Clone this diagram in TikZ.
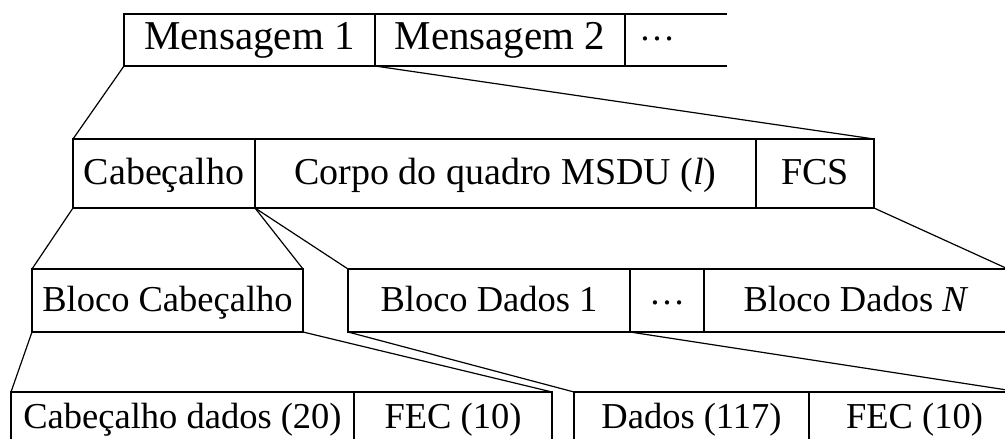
\RequirePackage{fix-cm}
\documentclass[tikz,border=0pt]{standalone}
\usepackage{fontspec}
\setmainfont{Liberation Serif}
% raised text ellipsis used for the open-ended sequences
\newcommand{\seqdots}{\raisebox{0.2em}{\fontsize{36}{40}\selectfont …}}
\begin{document}
\begin{tikzpicture}[x=1pt,y=-1pt,line width=1.2pt,
  cell/.style={draw,rectangle,inner sep=0pt,outer sep=0pt,anchor=north west,
               text height=26pt,text depth=4pt,font=\fontsize{36.5}{44}\selectfont},
  framecell/.style={cell,font=\fontsize{38}{46}\selectfont},
  bigcell/.style={cell,text height=28pt,text depth=10pt,font=\fontsize{41}{49}\selectfont},
  opencell/.style={draw=none},
  link/.style={line width=1.2pt}]
  \useasboundingbox (0,0) rectangle (1005,439);
  \fill[white] (0,0) rectangle (1005,439);
  \clip (0,0) rectangle (1005,439);

  % messages
  \node[bigcell,minimum width=251pt,minimum height=52pt] (m1) at (124,14) {Mensagem 1};
  \node[bigcell,minimum width=250pt,minimum height=52pt] (m2) at (375,14) {Mensagem 2};
  \node[bigcell,opencell,minimum width=64pt,minimum height=52pt] (mdots) at (625,14) {\seqdots};
  \coordinate (mtopend) at (727,14);
  \coordinate (mbotend) at (727,66);
  \draw (mdots.north west) -- (mtopend);
  \draw (mdots.south west) -- (mbotend);

  % MAC frame
  \node[framecell,minimum width=182pt,minimum height=69pt] (cab) at (73,139) {Cabeçalho};
  \node[framecell,minimum width=501pt,minimum height=69pt] (corpo) at (255,139) {Corpo do quadro MSDU (\textit{l})};
  \node[framecell,minimum width=118pt,minimum height=69pt] (fcs) at (756,139) {FCS};

  % blocks
  \node[cell,minimum width=271pt,minimum height=63pt] (bcab) at (32,269) {Bloco Cabeçalho};
  \node[cell,minimum width=282pt,minimum height=63pt] (bd1) at (348,269) {Bloco Dados 1};
  \node[cell,minimum width=74pt,minimum height=63pt] (bdots) at (630,269) {\seqdots};
  \node[cell,minimum width=304pt,minimum height=63pt] (bdn) at (704,269) {Bloco Dados \textit{N}};

  % block contents
  \node[cell,minimum width=343pt,minimum height=50pt] (cd) at (11,392) {Cabeçalho dados (20)};
  \node[cell,minimum width=198pt,minimum height=50pt] (fec1) at (354,392) {FEC (10)};
  \node[cell,minimum width=235pt,minimum height=50pt] (dados) at (574,392) {Dados (117)};
  \node[cell,minimum width=211pt,minimum height=50pt] (fec2) at (809,392) {FEC (10)};

  % expansion lines
  \draw[link] (m1.south west) -- (cab.north west);
  \draw[link] (m2.south west) -- (fcs.north east);
  \draw[link] (cab.south west) -- (bcab.north west);
  \draw[link] (cab.south east) -- (bcab.north east);
  \draw[link] (cab.south east) -- (bd1.north west);
  \draw[link] (fcs.south east) -- (bdn.north east);
  \draw[link] (bcab.south west) -- (cd.north west);
  \draw[link] (bcab.south east) -- (fec1.north east);
  \draw[link] (bd1.south west) -- (dados.north west);
  \draw[link] (bd1.south east) -- (fec2.north east);
\end{tikzpicture}
\end{document}
